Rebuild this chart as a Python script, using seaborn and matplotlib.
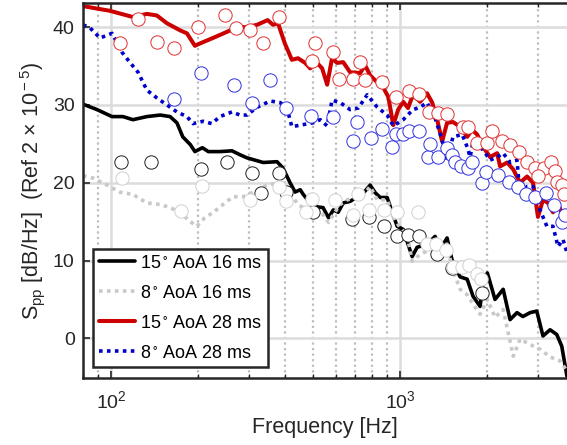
import numpy as np
import pandas as pd
import matplotlib
matplotlib.use("Agg")
import matplotlib.pyplot as plt
import matplotlib.ticker as mticker
import seaborn as sns

# ---------------- data ----------------
# 15 deg AoA, 16 ms  (black solid)
f_k = [80, 89.4, 100.8, 110, 119, 133, 148, 160, 169, 177, 188, 195, 207, 217, 238, 262, 279, 295,
       336, 375, 393, 416, 433, 451, 462, 488, 516, 541, 565, 587, 610, 635, 671, 711, 747, 787,
       820, 853, 901, 938, 976, 1024, 1064, 1100, 1144, 1238, 1320, 1374, 1452, 1510, 1611, 1704,
       1786, 1889, 1935, 2001, 2127, 2270, 2398, 2534, 2655, 2812, 2966, 3116, 3297, 3476, 3618, 3773]
v_k = [30.1, 29.4, 28.5, 28.5, 28.1, 28.5, 28.7, 28.5, 27.7, 25.9, 24.9, 24.0, 24.5, 24.0, 24.0, 24.1,
       23.6, 23.2, 22.6, 22.7, 21.9, 20.0, 18.8, 19.1, 18.5, 17.4, 16.9, 16.8, 15.5, 16.5, 16.2, 17.4,
       17.6, 18.2, 18.7, 19.7, 18.7, 18.1, 18.1, 16.2, 14.4, 14.0, 12.1, 10.5, 11.7, 12.1, 13.1, 11.4,
       12.9, 10.1, 7.9, 7.6, 5.4, 4.1, 7.2, 8.4, 5.0, 6.3, 2.4, 3.3, 2.8, 3.3, 3.5, 0.3, 1.1, 0.5,
       -1.0, -4.9]

# 8 deg AoA, 16 ms  (light grey dotted)
f_g = [80, 86.6, 96.9, 107, 119, 133, 148, 160, 173, 188, 198, 211, 226, 244, 264, 286, 310, 346,
       385, 416, 443, 476, 516, 541, 565, 587, 620, 656, 711, 747, 787, 833, 901, 946, 1000, 1056,
       1100, 1172, 1269, 1452, 1510, 1611, 1704, 1786, 1889, 2001, 2127, 2270, 2460, 2597, 2812,
       3045, 3297, 3570, 3773]
v_g = [20.9, 20.6, 19.7, 18.8, 18.5, 17.4, 17.2, 16.8, 16.2, 15.0, 14.4, 15.5, 16.2, 17.2, 18.2, 18.2,
       18.8, 19.7, 20.0, 18.7, 17.2, 16.5, 16.3, 15.9, 14.9, 15.9, 17.2, 17.8, 18.2, 18.5, 19.5, 17.8,
       17.8, 15.6, 14.2, 13.3, 9.9, 10.8, 11.4, 12.1, 9.1, 6.3, 5.6, 4.4, 3.1, 5.0, 2.7, 3.7, -2.3,
       -0.1, -0.8, -1.4, -2.4, -2.9, -4.2]

# 15 deg AoA, 28 ms  (red solid)
f_r = [80, 99, 119, 133, 144, 156, 173, 183, 195, 203, 225, 252, 273, 295, 320, 348, 363, 378, 399,
       422, 443, 469, 488, 516, 537, 559, 581, 605, 635, 671, 727, 756, 787, 833, 875, 910, 946, 984,
       1024, 1064, 1107, 1172, 1238, 1290, 1342, 1396, 1452, 1522, 1611, 1704, 1773, 1845, 1935,
       2045, 2163, 2215, 2343, 2460, 2597, 2744, 2880, 2994, 3116, 3243, 3375, 3512, 3655, 3773]
v_r = [42.7, 42.1, 41.3, 41.7, 41.5, 40.5, 39.6, 39.2, 37.6, 37.9, 38.6, 39.4, 40.0, 40.0, 40.3, 40.9,
       40.3, 40.5, 37.9, 35.8, 36.0, 35.4, 34.7, 35.4, 34.7, 32.6, 36.0, 35.4, 35.5, 34.2, 34.1, 35.1,
       33.8, 32.9, 32.2, 31.0, 27.4, 29.4, 30.4, 29.6, 31.3, 30.4, 31.5, 30.3, 28.1, 25.3, 27.7, 27.8,
       27.2, 25.9, 26.8, 26.2, 24.6, 23.3, 23.8, 22.1, 22.6, 21.7, 20.0, 20.8, 20.0, 15.6, 17.8, 17.4,
       16.2, 17.4, 15.6, 15.3]

# 8 deg AoA, 28 ms  (blue dotted)
f_b = [80, 84.6, 91.6, 100.8, 109, 116, 124, 133, 144, 156, 169, 183, 192, 208, 223, 238, 262, 279,
       295, 320, 355, 385, 407, 422, 451, 500, 529, 559, 581, 620, 671, 716, 769, 833, 901, 946, 1024,
       1107, 1172, 1238, 1320, 1396, 1452, 1522, 1638, 1704, 1745, 1786, 1935, 2045, 2163, 2270, 2398,
       2534, 2597, 2744, 2880, 3045, 3214, 3375, 3512, 3655, 3773]
v_b = [40.3, 39.9, 38.6, 39.2, 36.8, 35.5, 34.2, 31.9, 30.9, 30.0, 29.1, 28.5, 27.6, 27.9, 27.6, 28.5,
       29.1, 28.7, 28.7, 29.7, 30.5, 30.3, 29.4, 27.2, 27.4, 27.7, 28.1, 27.3, 30.6, 30.3, 29.4, 29.6,
       31.3, 29.7, 28.7, 27.3, 28.1, 29.4, 29.7, 30.3, 28.3, 25.5, 22.9, 25.9, 26.2, 24.6, 23.3, 25.3,
       24.2, 22.9, 23.3, 23.8, 22.6, 22.9, 18.2, 19.5, 19.5, 16.5, 14.4, 14.4, 11.8, 12.7, 11.0]

# open-circle reference points
cf_k = [108, 138, 205, 252, 307, 381, 330, 403, 500, 681, 781, 880, 976, 1064, 1163, 1342, 1510, 1915]
cv_k = [22.7, 22.6, 21.8, 22.6, 21.2, 21.2, 18.7, 18.8, 16.3, 15.3, 15.6, 14.4, 13.1, 13.3, 13.1,
        10.8, 9.1, 5.8]

cf_g = [109, 175, 206, 303, 381, 403, 473, 496, 596, 687, 716, 781, 880, 976, 1154, 1238, 1333, 1440,
        1522, 1638, 1730, 1845, 1910]
cv_g = [20.6, 16.4, 19.6, 17.8, 19.4, 17.6, 16.3, 17.9, 17.8, 15.8, 18.5, 16.5, 16.5, 16.2, 16.3,
        12.1, 12.1, 11.3, 9.2, 9.2, 9.4, 8.3, 7.6]

cf_r = [107.4, 124, 144, 165, 200, 248, 270, 303, 336, 381, 496, 508, 585, 615, 687, 727, 756, 866,
        970, 1075, 1163, 1256, 1347, 1452, 1649, 1716, 1845, 2001, 2081, 2254, 2398, 2577, 2744, 2925,
        3142, 3328, 3440, 2994, 3494, 3636, 3693]
cv_r = [37.9, 41.0, 38.1, 37.3, 40.0, 41.5, 39.9, 39.6, 37.9, 41.3, 35.6, 37.9, 36.8, 33.3, 33.3, 35.5,
        33.2, 32.9, 31.0, 31.8, 31.4, 29.1, 29.0, 28.8, 27.2, 27.1, 25.1, 25.1, 26.7, 25.4, 24.9, 24.0,
        22.6, 21.9, 21.9, 22.7, 21.5, 20.8, 20.1, 19.7, 18.5]

cf_b = [165, 205, 266, 307, 355, 403, 493, 585, 688, 711, 793, 866, 938, 970, 1024, 1075, 1163, 1252,
        1269, 1347, 1452, 1510, 1550, 1625, 1716, 1773, 1915, 1978, 2180, 2380, 2560, 2722, 2925, 3188,
        3404, 3636, 3720]
cv_b = [30.8, 34.1, 32.6, 30.3, 33.2, 29.6, 28.6, 28.5, 25.3, 27.8, 25.8, 26.9, 24.6, 26.2, 26.2, 26.7,
        26.7, 23.3, 25.0, 23.3, 24.5, 23.6, 22.6, 22.2, 21.9, 22.6, 20.0, 21.4, 21.0, 20.1, 19.5, 18.5,
        18.2, 18.7, 17.1, 15.0, 15.9]

labels = [r"15$\,^{\circ}$ AoA 16 ms", r"8$\,^{\circ}$ AoA 16 ms",
          r"15$\,^{\circ}$ AoA 28 ms", r"8$\,^{\circ}$ AoA 28 ms"]

# ---------------- style ----------------
sns.set_theme(style="white")
plt.rcParams["font.family"] = ["Liberation Sans", "DejaVu Sans"]
plt.rcParams["mathtext.fontset"] = "custom"
plt.rcParams["mathtext.rm"] = "Liberation Sans"
plt.rcParams["mathtext.it"] = "Liberation Sans:italic"
plt.rcParams["mathtext.default"] = "regular"

W, H = 567, 445
fig = plt.figure(figsize=(W / 100, H / 100), dpi=100)
ax = fig.add_axes([83 / W, 67 / H, 484 / W, 375 / H])

lw = 2.6
dot = (0, (1, 1.2))
sns.lineplot(x=f_k, y=v_k, ax=ax, color="black", lw=lw, label=labels[0], estimator=None)
sns.lineplot(x=f_g, y=v_g, ax=ax, color="#c8c8c8", lw=lw, linestyle=dot, label=labels[1], estimator=None)
sns.lineplot(x=f_r, y=v_r, ax=ax, color="#cc0000", lw=lw + 0.3, label=labels[2], estimator=None)
sns.lineplot(x=f_b, y=v_b, ax=ax, color="#0000cc", lw=lw, linestyle=dot, label=labels[3], estimator=None)

ms = 92
for cf, cv, ec in [(cf_k, cv_k, "#202020"), (cf_g, cv_g, "#d0d0d0"),
                   (cf_r, cv_r, "#e03030"), (cf_b, cv_b, "#3030e0")]:
    sns.scatterplot(x=cf, y=cv, ax=ax, marker="o", s=ms, facecolor="white",
                    edgecolor=ec, linewidth=0.7, zorder=3, legend=False)

ax.set_xscale("log")
ax.set_xlim(80, 3773)
ax.set_ylim(-5.1, 43.1)
ax.set_yticks([0, 10, 20, 30, 40])
ax.xaxis.set_minor_locator(mticker.LogLocator(base=10, subs=np.arange(2, 10)))
ax.xaxis.set_minor_formatter(mticker.NullFormatter())

ax.set_axisbelow(True)
ax.grid(which="major", color="#dcdcdc", lw=1.8, ls="-")
ax.grid(which="minor", axis="x", color="#bdbdbd", lw=1.6, ls=(0, (1, 1.5)))

for s in ["left", "bottom", "top"]:
    ax.spines[s].set_linewidth(1.8)
    ax.spines[s].set_color("#262626")
ax.spines["right"].set_visible(False)

ax.tick_params(which="both", direction="in", top=True, bottom=True, left=True, right=False,
               colors="#262626", labelsize=14)
ax.tick_params(which="major", length=5, width=1.2)
ax.tick_params(which="minor", length=3, width=1.0)
ax.tick_params(axis="x", which="major", pad=9)
ax.tick_params(axis="y", which="major", pad=6)

ax.set_xlabel("Frequency [Hz]", fontsize=15.5, color="#262626", labelpad=3)
ax.set_ylabel(r"S$_{\rm pp}$ [dB/Hz]  (Ref 2 $\times$ 10$^{\rm -5}$)", fontsize=15.5,
              color="#262626", labelpad=4)

leg = ax.legend(loc="lower left", bbox_to_anchor=(0.021, 0.029), borderaxespad=0,
                fontsize=13, frameon=True, fancybox=False, handlelength=2.0,
                handletextpad=0.3, labelspacing=0.72, borderpad=0.3)
leg.get_frame().set_edgecolor("#262626")
leg.get_frame().set_linewidth(1.8)
leg.get_frame().set_facecolor("white")
leg.get_frame().set_alpha(1)
for t in leg.get_texts():
    t.set_color("black")

fig.savefig("out.png", dpi=100)
